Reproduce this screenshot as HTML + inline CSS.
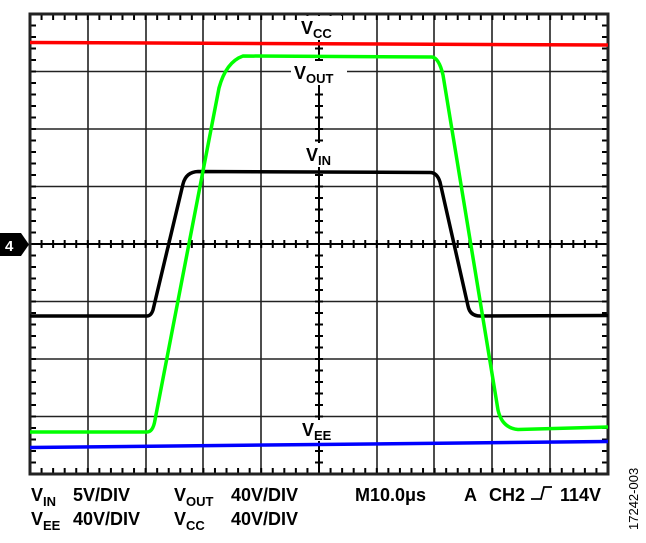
<!DOCTYPE html>
<html><head><meta charset="utf-8"><style>
body{margin:0;background:#fff}
svg{display:block}
text{font-family:"Liberation Sans",Arial,sans-serif;font-weight:bold;fill:#000}
</style></head><body>
<svg width="646" height="543" viewBox="0 0 646 543" xmlns="http://www.w3.org/2000/svg">
<g stroke="#222" stroke-width="1.6">
<line x1="88" y1="14" x2="88" y2="474"/><line x1="146" y1="14" x2="146" y2="474"/><line x1="203" y1="14" x2="203" y2="474"/><line x1="261" y1="14" x2="261" y2="474"/><line x1="377" y1="14" x2="377" y2="474"/><line x1="434" y1="14" x2="434" y2="474"/><line x1="492" y1="14" x2="492" y2="474"/><line x1="550" y1="14" x2="550" y2="474"/>
<line x1="30" y1="71.5" x2="608" y2="71.5"/><line x1="30" y1="129" x2="608" y2="129"/><line x1="30" y1="186.5" x2="608" y2="186.5"/><line x1="30" y1="301.5" x2="608" y2="301.5"/><line x1="30" y1="359" x2="608" y2="359"/><line x1="30" y1="416.5" x2="608" y2="416.5"/>
<line x1="319" y1="14" x2="319" y2="474" stroke="#000" stroke-width="2"/>
<line x1="30" y1="244" x2="608" y2="244" stroke="#000" stroke-width="2"/>
</g>
<g id="ticks" stroke="#000" stroke-width="2"></g>
<rect x="30" y="14" width="578" height="460" fill="none" stroke="#222" stroke-width="3"/>
<polyline fill="none" stroke="#f00" stroke-width="3.5" points="30,42.5 608,45"/>
<polyline fill="none" stroke="#00f" stroke-width="3.5" points="30,447.5 608,441.5"/>
<path fill="none" stroke="#000" stroke-width="3.5" stroke-linejoin="round" d="M30,316 L147,316 Q151,316 153,310 L183,184 Q186,172 198,171.5 L430,172.5 Q437,172.5 440,182 L468,306 Q470,316 480,316 L608,315.5"/>
<path fill="none" stroke="#0f0" stroke-width="3.5" stroke-linejoin="round" d="M30,432 L147,432 Q153,432 155,420 L219,88 Q226,62 243,56 L432,57 Q439,58 443,75 L498,410 Q502,428 518,429.5 L608,427"/>
<g>
<rect x="298" y="16" width="44" height="24" fill="#fff"/>
<text x="301" y="34" font-size="18">V<tspan font-size="13" dy="4">CC</tspan></text>
<rect x="291" y="61" width="56" height="24" fill="#fff"/>
<text x="294" y="79" font-size="18">V<tspan font-size="13" dy="4">OUT</tspan></text>
<rect x="303" y="143" width="36" height="24" fill="#fff"/>
<text x="306" y="161" font-size="18">V<tspan font-size="13" dy="4">IN</tspan></text>
<rect x="299" y="420" width="40" height="21" fill="#fff"/>
<text x="302" y="436" font-size="18">V<tspan font-size="13" dy="4">EE</tspan></text>
</g>
<polygon points="0,233 21,233 29,244.5 21,256 0,256" fill="#000"/>
<text x="5" y="251" font-size="15" style="fill:#fff">4</text>
<g font-size="18">
<text x="31" y="501">V<tspan font-size="13" dy="5">IN</tspan><tspan dy="-5" x="73">5V/DIV</tspan></text>
<text x="31" y="525">V<tspan font-size="13" dy="5">EE</tspan><tspan dy="-5" x="73">40V/DIV</tspan></text>
<text x="174" y="501">V<tspan font-size="13" dy="5">OUT</tspan><tspan dy="-5" x="231">40V/DIV</tspan></text>
<text x="174" y="525">V<tspan font-size="13" dy="5">CC</tspan><tspan dy="-5" x="231">40V/DIV</tspan></text>
<text x="355" y="501">M10.0μs</text>
<text x="464" y="501">A</text>
<text x="489" y="501">CH2</text>
<text x="560" y="501">114V</text>
</g>
<polyline points="531,499 541,499 544,487 552,487" fill="none" stroke="#000" stroke-width="1.8"/>
<text transform="translate(638,530) rotate(-90)" font-size="13" style="font-weight:normal">17242-003</text>
</svg>
<script>
var g=document.getElementById('ticks'),s='';
for(var i=0;i<=50;i++){var x=30+i*578/50;
s+='<line x1="'+x+'" y1="14" x2="'+x+'" y2="20"/><line x1="'+x+'" y1="468" x2="'+x+'" y2="474"/><line x1="'+x+'" y1="240" x2="'+x+'" y2="248"/>';}
for(var j=0;j<=40;j++){var y=14+j*460/40;
s+='<line x1="30" y1="'+y+'" x2="36" y2="'+y+'"/><line x1="602" y1="'+y+'" x2="608" y2="'+y+'"/><line x1="315" y1="'+y+'" x2="323" y2="'+y+'"/>';}
g.innerHTML=s;
</script>
</body></html>
